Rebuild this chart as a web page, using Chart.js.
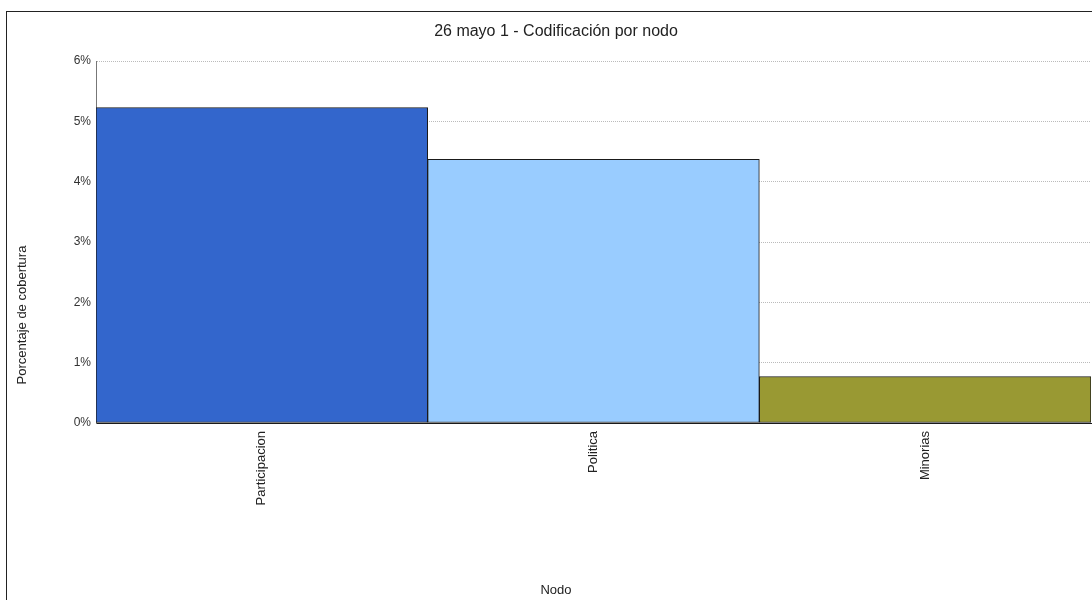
<!DOCTYPE html>
<html>
<head>
<meta charset="utf-8">
<script src="https://cdn.jsdelivr.net/npm/chart.js@4.4.1/dist/chart.umd.min.js"></script>
<style>
    html, body { margin: 0; padding: 0; background: #fff; overflow: hidden; width: 1092px; height: 600px; }
    .frame {
        position: absolute; left: 6px; top: 11px;
        width: 1110px; height: 600px;
        border: 1px solid #222; box-sizing: border-box;
    }
    .box { position: absolute; left: 0; top: 0; width: 1098px; height: 589px; }
</style>
</head>
<body>
<div class="frame"><div class="box"><canvas id="chart"></canvas></div></div>
<script>
// --- 数据 ---
const chartTitle = '26 mayo 1 - Codificación por nodo';
const categories = ['Participacion', 'Politica', 'Minorias'];
const coverage = [5.23, 4.37, 0.77];
const barColors = ['#3366CC', '#99CCFF', '#999933'];
const yTicks = [0, 1, 2, 3, 4, 5, 6];

const FONT = "'Liberation Sans', Arial, sans-serif";
Chart.defaults.font.family = FONT;
Chart.defaults.color = '#333';

// 标题与坐标轴标题：原图中都按整个画布居中，而不是按绘图区
const frameTexts = {
    id: 'frameTexts',
    afterDraw(chart) {
        const c = chart.ctx;
        c.save();
        c.fillStyle = '#222';
        c.textAlign = 'center';
        c.textBaseline = 'middle';
        c.font = '16px ' + FONT;
        c.fillText(chartTitle, chart.width / 2, 20);
        c.font = '13px ' + FONT;
        c.fillText('Nodo', chart.width / 2, 578);
        c.translate(15, 303);
        c.rotate(-Math.PI / 2);
        c.fillText('Porcentaje de cobertura', 0, 0);
        c.restore();
    }
};

const ctx = document.getElementById('chart').getContext('2d');
new Chart(ctx, {
    type: 'bar',
    data: {
        labels: categories,
        datasets: [{
            data: coverage,
            backgroundColor: barColors,
            borderColor: '#1a1a1a',
            borderWidth: 1,
            borderSkipped: false,
            categoryPercentage: 1,
            barPercentage: 1
        }]
    },
    plugins: [frameTexts],
    options: {
        responsive: true,
        maintainAspectRatio: false,
        animation: false,
        layout: { padding: { left: 0, right: 14, top: 49, bottom: 0 } },
        plugins: {
            legend: { display: false },
            tooltip: { enabled: false },
            title: { display: false }
        },
        scales: {
            x: {
                grid: { display: false },
                border: { display: true, color: '#1a1a1a' },
                ticks: {
                    minRotation: 90, maxRotation: 90,
                    font: { size: 13 }, color: '#222', padding: 0
                },
                afterFit(scale) { scale.height = 178; }
            },
            y: {
                min: 0, max: 6,
                afterBuildTicks(scale) { scale.ticks = yTicks.map(v => ({ value: v })); },
                grid: { color: '#bbb', lineWidth: 1, drawTicks: false },
                border: { display: true, color: '#777', dash: [1, 1] },
                ticks: {
                    callback: v => v + '%',
                    font: { size: 12 }, color: '#333', padding: 5
                },
                afterFit(scale) { scale.width = 89; }
            }
        }
    }
});
</script>
</body>
</html>
